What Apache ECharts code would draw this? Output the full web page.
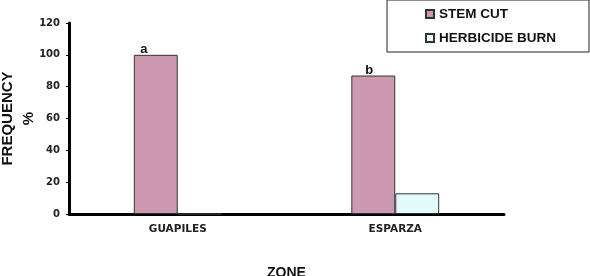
<!DOCTYPE html>
<html>
<head>
<meta charset="utf-8">
<script src="https://cdn.jsdelivr.net/npm/echarts@6/dist/echarts.min.js"></script>
<style>html,body{margin:0;padding:0;background:#fff}#c{width:590px;height:276px}</style>
</head>
<body>
<div id="c"></div>
<script>
var categories = ['GUAPILES', 'ESPARZA'];
var stemCut = [100, 87];
var herbicideBurn = [0, 13];
var letters = ['a', 'b'];
var yTicks = { min: 0, max: 120, interval: 20 };

var chart = echarts.init(document.getElementById('c'), null, { renderer: 'canvas' });
var letterOffsets = [[-12, 2], [-4, 2]];
var stemData = stemCut.map(function (v, i) {
  return { value: v, label: { show: true, formatter: letters[i], offset: letterOffsets[i] } };
});
chart.setOption({
  animation: false,
  backgroundColor: '#fff',
  grid: { left: 69, right: 86, top: 23, bottom: 62, containLabel: false, outerBoundsMode: 'none' },
  legend: {
    orient: 'vertical',
    left: 387, top: 0,
    padding: [7, 33, 7, 38],
    itemGap: 10,
    itemWidth: 8, itemHeight: 8,
    borderColor: '#222', borderWidth: 1,
    icon: 'rect',
    textStyle: { fontFamily: 'Liberation Sans, Arial', fontWeight: 'bold', fontSize: 13.5, color: '#111' },
    data: ['STEM CUT', 'HERBICIDE BURN']
  },
  xAxis: {
    type: 'category',
    data: categories,
    name: 'ZONE',
    nameLocation: 'middle',
    nameGap: 52,
    nameMoveOverlap: false,
    nameTextStyle: { fontFamily: 'Liberation Sans, Arial', fontWeight: 'bold', fontSize: 14, color: '#111' },
    axisLine: { lineStyle: { color: '#000', width: 3 } },
    axisTick: { show: false },
    axisLabel: { margin: 10, fontFamily: 'DejaVu Sans', fontWeight: 'bold', fontSize: 10.5, color: '#222' }
  },
  yAxis: {
    type: 'value',
    min: yTicks.min, max: yTicks.max, interval: yTicks.interval,
    name: 'FREQUENCY\n%',
    nameLocation: 'middle',
    nameRotate: 90,
    nameGap: 30,
    nameMoveOverlap: false,
    nameTextStyle: { fontFamily: 'Liberation Sans, Arial', fontWeight: 'bold', fontSize: 15, color: '#111', lineHeight: 21 },
    axisLine: { show: true, lineStyle: { color: '#000', width: 3 } },
    axisTick: { show: true, length: 3, lineStyle: { color: '#000' } },
    splitLine: { show: false },
    axisLabel: { margin: 9, fontFamily: 'DejaVu Sans', fontWeight: 'bold', fontSize: 10, color: '#222' }
  },
  series: [
    {
      name: 'STEM CUT', type: 'bar', data: stemData,
      barGap: '0%', barCategoryGap: '59.6%',
      itemStyle: { color: '#cc99b1', borderColor: '#333', borderWidth: 1 },
      label: { position: 'top', distance: 1, fontFamily: 'Liberation Sans, Arial', fontWeight: 'bold', fontSize: 13, color: '#111' }
    },
    {
      name: 'HERBICIDE BURN', type: 'bar', data: herbicideBurn,
      itemStyle: { color: '#e3fbfb', borderColor: '#333', borderWidth: 1 }
    }
  ]
});
</script>
</body>
</html>
